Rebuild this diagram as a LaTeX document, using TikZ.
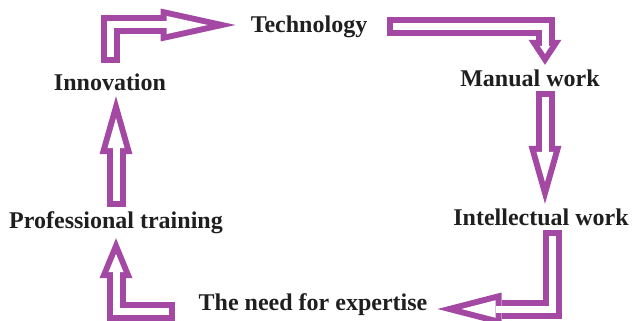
\documentclass[tikz,border=0pt]{standalone}
\usepackage{fontspec}
\setmainfont{Liberation Serif}
\usetikzlibrary{arrows.meta}
\definecolor{cyclepurple}{RGB}{163,73,164}
\tikzset{
lbl/.style={
  font=\bfseries\fontsize{24}{28}\selectfont, text=black!88,
  text height=19pt, text depth=3pt, inner sep=2pt},
% outer head length, inner head length, inner head width, inner tip shift
fatarrow/.style n args={4}{
  preaction={draw=cyclepurple, line width=19pt, shorten <=0pt, shorten >=0pt,
    -{Triangle[length=#1, width=33pt, line width=0pt]}},
  draw=white, line width=7pt, shorten <=6pt, shorten >=#4,
  -{Triangle[length=#2, width=#3, line width=0pt]}}}

\begin{document}
\begin{tikzpicture}[x=1pt, y=-1pt]
\useasboundingbox (0,0) rectangle (632,321);
\node[lbl] (tech)   at (309,25)  {Technology};
\node[lbl] (manual) at (530,78)  {Manual work};
\node[lbl] (intel)  at (541,217) {Intellectual work};
\node[lbl] (need)   at (313,302) {The need for expertise};
\node[lbl] (prof)   at (116,220) {Professional training};
\node[lbl] (innov)  at (110,83)  {Innovation};

\draw[fatarrow={75pt}{41.1pt}{18.1pt}{27.9pt}]
  ([yshift=7pt]innov.north) |- ([xshift=-13pt]tech.west);
\draw[fatarrow={25pt}{8.1pt}{10.7pt}{10.9pt}]
  ([xshift=18pt,yshift=-2pt]tech.east) -| ([xshift=15pt]manual.north);
\draw[fatarrow={58pt}{30.1pt}{17.1pt}{21.9pt}]
  ([xshift=15pt]manual.south) -- ([xshift=15pt]manual.south |- intel.north);
\draw[fatarrow={64pt}{34pt}{17.5pt}{24pt}]
  ([xshift=11pt]intel.south) |- ([xshift=8pt,yshift=-7pt]need.east);
\draw[fatarrow={40pt}{18.3pt}{15.1pt}{15.7pt}]
  ([xshift=-21pt,yshift=-9pt]need.west) -| ([yshift=-5pt]prof.south);
\draw[fatarrow={58pt}{30.1pt}{17.1pt}{21.9pt}]
  (prof.north) -- (prof.north |- innov.south);
\end{tikzpicture}
\end{document}
